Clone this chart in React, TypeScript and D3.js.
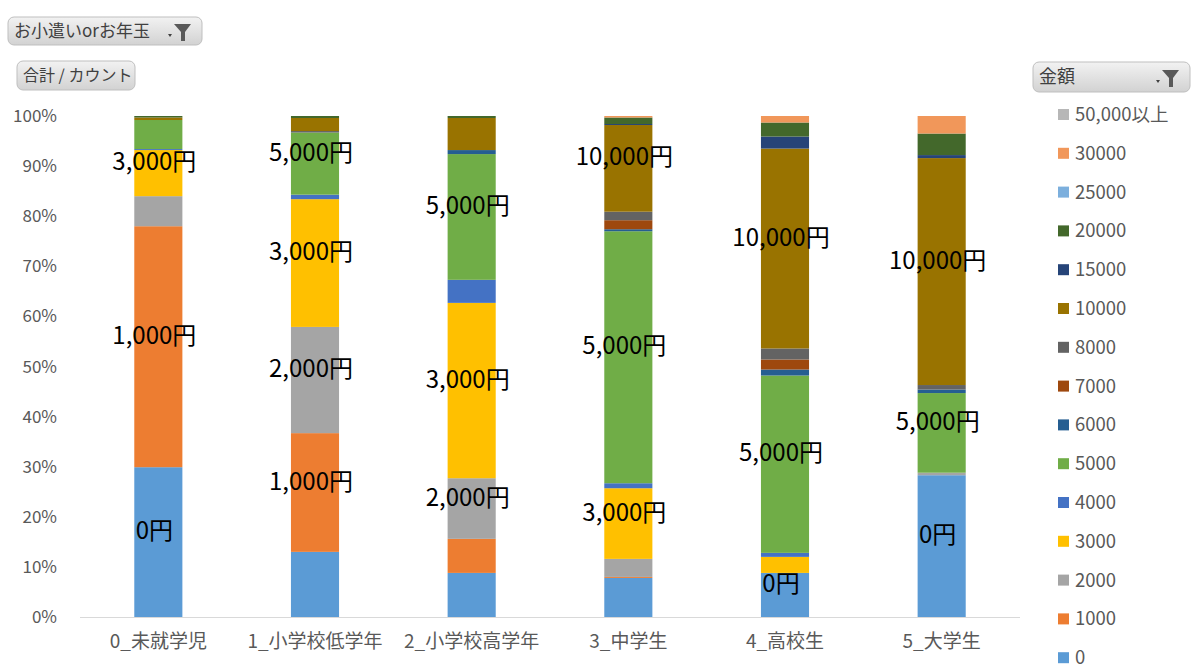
import React from "react";
import * as d3 from "d3";

const categories = ["0_未就学児", "1_小学校低学年", "2_小学校高学年", "3_中学生", "4_高校生", "5_大学生"];
const seriesKeys = ["0", "1000", "2000", "3000", "4000", "5000", "6000", "7000", "8000", "10000", "15000", "20000", "25000", "30000", "50,000以上"];
const seriesColors = ["#5B9BD5", "#ED7D31", "#A5A5A5", "#FFC000", "#4472C4", "#70AD47", "#255E91", "#9E480E", "#636363", "#997300", "#264478", "#43682B", "#7CAFDD", "#F1975A", "#B7B7B7"];
// percentage shares per category, in series order
const s0 = [29.9, 13.0, 8.8, 7.8, 8.8, 28.3];
const s1000 = [48.1, 23.7, 6.8, 0.2, 0, 0];
const s2000 = [6.0, 21.2, 12.1, 3.6, 0, 0.5];
const s3000 = [9.2, 25.5, 35.0, 14.1, 3.2, 0];
const s4000 = [0.2, 0.9, 4.6, 1.0, 0.8, 0];
const s5000 = [5.8, 12.4, 25.1, 50.3, 35.4, 15.9];
const s6000 = [0, 0, 0.8, 0.4, 1.2, 0.7];
const s7000 = [0, 0, 0, 1.8, 2.0, 0];
const s8000 = [0, 0.3, 0, 1.7, 2.2, 0.9];
const s10000 = [0.5, 2.6, 6.4, 17.3, 39.9, 45.3];
const s15000 = [0, 0, 0, 0.2, 2.4, 0.6];
const s20000 = [0.3, 0.4, 0.4, 1.3, 2.8, 4.3];
const s25000 = [0, 0, 0, 0, 0, 0];
const s30000 = [0, 0, 0, 0.3, 1.3, 3.5];
const s50000 = [0, 0, 0, 0, 0, 0];
const seriesValues = [s0, s1000, s2000, s3000, s4000, s5000, s6000, s7000, s8000, s10000, s15000, s20000, s25000, s30000, s50000];
const labelText = ["0円", "1,000円", "2,000円", "3,000円", "4,000円", "5,000円", "6,000円", "7,000円", "8,000円", "10,000円", "15,000円", "20,000円", "25,000円", "30,000円", "50,000円以上"];
// which segments carry a data label: [categoryIndex, seriesIndex]
const labeled: [number, number][] = [
  [0, 0], [0, 1], [0, 3],
  [1, 1], [1, 2], [1, 3], [1, 5],
  [2, 2], [2, 3], [2, 5],
  [3, 3], [3, 5], [3, 9],
  [4, 0], [4, 5], [4, 9],
  [5, 0], [5, 5], [5, 9],
];
const yTicks = [0, 10, 20, 30, 40, 50, 60, 70, 80, 90, 100];

const FONT = "'Noto Sans CJK JP', 'Noto Sans', sans-serif";

function FilterIcon({ x, y }: { x: number; y: number }) {
  return (
    <g transform={`translate(${x},${y})`}>
      <path d="M-7,3 L-3,3 L-5,6 Z" fill="#404040" />
      <path d="M-1,-7 L16,-7 L10,1 L10,10 L6,10 L6,1 Z" fill="#595959" />
    </g>
  );
}

function Button({ x, y, w, h, label, filter, id, fs }: any) {
  return (
    <g>
      <defs>
        <linearGradient id={id} x1="0" x2="0" y1="0" y2="1">
          <stop offset="0" stopColor="#f2f2f2" />
          <stop offset="1" stopColor="#d2d2d2" />
        </linearGradient>
      </defs>
      <rect x={x} y={y} width={w} height={h} rx={6} fill={`url(#${id})`} stroke="#bfbfbf" />
      <text x={x + 6} y={y + h / 2 + fs * 0.36} fontSize={fs} fill="#404040" fontFamily={FONT}>{label}</text>
      {filter && <FilterIcon x={x + w - 27} y={y + h / 2} />}
    </g>
  );
}

export default function App() {
  const W = 1200, H = 668;
  const x = d3.scaleBand<string>().domain(categories).range([80, 1020]).paddingInner(0.693).paddingOuter(0.3465);
  const y = d3.scaleLinear().domain([0, 100]).range([617, 116]);

  const table = categories.map((c, i) => {
    const row: any = { cat: c };
    seriesKeys.forEach((k, j) => (row[k] = seriesValues[j][i]));
    return row;
  });
  const stacked = d3.stack<any>().keys(seriesKeys)(table);

  return (
    <svg width={W} height={H} style={{ position: "absolute", left: 0, top: 0, background: "#fff" }}>
      <rect width={W} height={H} fill="#fff" />
      <Button x={8} y={17} w={194} h={28} label="お小遣いorお年玉" filter id="g1" fs={17} />
      <Button x={17} y={61} w={118} h={29} label="合計 / カウント" id="g2" fs={16} />
      <Button x={1033} y={62} w={157} h={30} label="金額" filter id="g3" fs={18} />

      {yTicks.map((t) => (
        <text key={t} x={57} y={y(t) + 6} textAnchor="end" fontSize={17} fill="#595959" fontFamily={FONT}>{t}%</text>
      ))}
      <line x1={80} x2={1020} y1={y(0) + 0.5} y2={y(0) + 0.5} stroke="#d9d9d9" />

      {stacked.map((layer, j) => (
        <g key={seriesKeys[j]} fill={seriesColors[j]}>
          {layer.map((d, i) => (
            d[1] - d[0] > 0 ? (
              <rect key={i} x={x(categories[i])} width={x.bandwidth()} y={y(d[1])} height={y(d[0]) - y(d[1])} />
            ) : null
          ))}
        </g>
      ))}

      {labeled.map(([ci, sj]) => {
        const d = stacked[sj][ci];
        const cy = y((d[0] + d[1]) / 2) - 11;
        return (
          <text key={`${ci}-${sj}`} x={(x(categories[ci]) as number) + x.bandwidth() / 2 - 4} y={cy + 8} textAnchor="middle" fontSize={24} fill="#000" fontFamily={FONT}>{labelText[sj]}</text>
        );
      })}

      {categories.map((c) => (
        <text key={c} x={(x(c) as number) + x.bandwidth() / 2} y={648} textAnchor="middle" fontSize={19} fill="#595959" fontFamily={FONT}>{c}</text>
      ))}

      {seriesKeys.slice().reverse().map((k, idx) => {
        const j = seriesKeys.length - 1 - idx;
        const ly = 114 + idx * 38.8;
        return (
          <g key={k}>
            <rect x={1058} y={ly - 5} width={11} height={11} fill={seriesColors[j]} />
            <text x={1075} y={ly + 7} fontSize={18.5} fill="#595959" fontFamily={FONT}>{k}</text>
          </g>
        );
      })}
    </svg>
  );
}
